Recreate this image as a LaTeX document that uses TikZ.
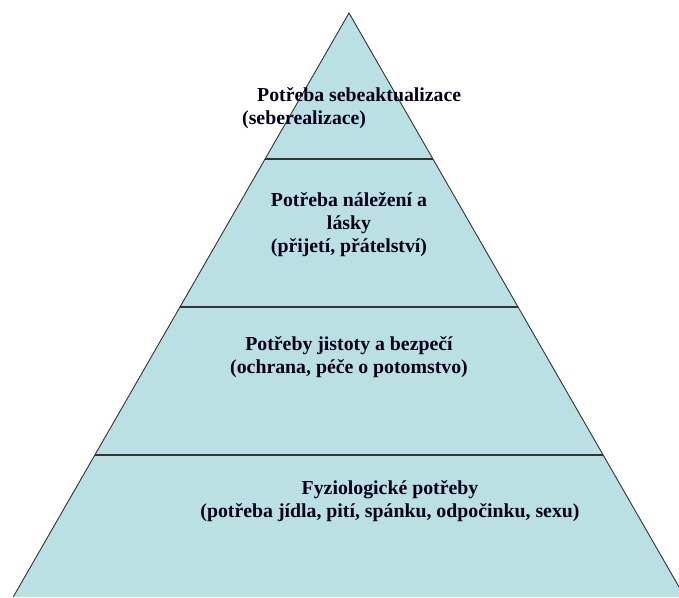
\documentclass[tikz,border=0pt]{standalone}
\usepackage{fontspec}
\setmainfont{Liberation Serif}
\begin{document}
\begin{tikzpicture}[x=1pt,y=-1pt,
  lbl/.style={font=\fontsize{19.8}{23}\selectfont\bfseries, text=black!90!blue, inner sep=0pt, align=center},
  edge/.style={draw=black!80, line width=0.9pt},
  tier/.style={draw=black!80, line width=1.4pt}]
\useasboundingbox (0,0) rectangle (679,597);
\clip (0,0) rectangle (679,597);
\coordinate (apex) at (349,13);
\coordinate (bl) at (13.2,597);
\coordinate (br) at (684.8,597);
\fill[fill={rgb,255:red,187;green,224;blue,227}] (apex) -- (bl) -- (br) -- cycle;
\draw[tier] (265.05,159) -- (432.95,159);
\draw[tier] (179.95,307) -- (518.05,307);
\draw[tier] (94.85,455) -- (603.15,455);
\draw[edge] (bl) -- (apex) -- (br);
\node[lbl, anchor=west] (t1) at (257,95) {Potřeba sebeaktualizace};
\node[lbl, anchor=west] (t1b) at (242,120) {(seberealizace)};
\node[lbl] (t2) at (349,225) {Potřeba náležení a\\lásky\\(přijetí, přátelství)};
\node[lbl] (t3) at (349,357) {Potřeby jistoty a bezpečí\\(ochrana, péče o potomstvo)};
\node[lbl] (t4) at (390,501) {Fyziologické potřeby\\(potřeba jídla, pití, spánku, odpočinku, sexu)};
\end{tikzpicture}
\end{document}
